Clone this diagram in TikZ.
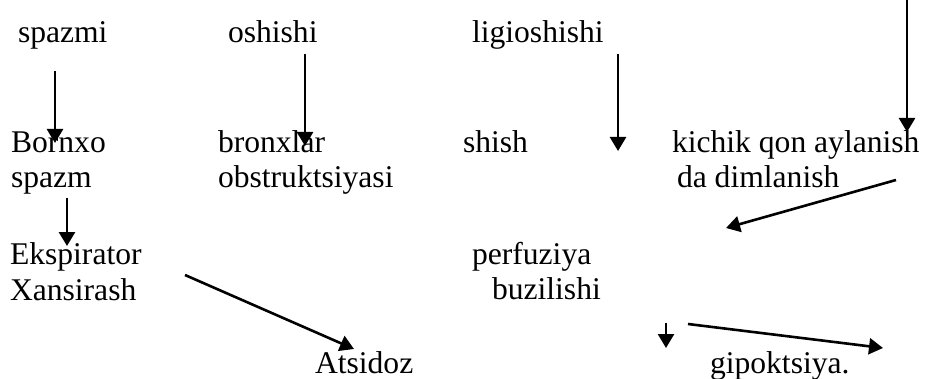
\documentclass[tikz,border=0pt]{standalone}
\usepackage{fontspec}
\setmainfont{Liberation Serif}
\usetikzlibrary{arrows.meta}
\begin{document}
\begin{tikzpicture}[x=1pt,y=-1pt,
  lbl/.style={anchor=base west,inner sep=0pt,outer sep=0pt,font=\fontsize{31.6}{36}\selectfont},
  arr/.style={line width=2.6pt,-{Triangle[length=14pt,width=16pt]}}]
\useasboundingbox (0,0) rectangle (925,379);
% texts
\node[lbl] (t1) at (18,43) {spazmi};
\node[lbl] (t2) at (228,43) {oshishi};
\node[lbl] (t3) at (472,43) {ligioshishi};
\node[lbl] (t4) at (11,153) {Bornxo};
\node[lbl] (t5) at (218,153) {bronxlar};
\node[lbl] (t6) at (463,153) {shish};
\node[lbl] (t7) at (672,153) {kichik qon aylanish};
\node[lbl] (t8) at (11,188) {spazm};
\node[lbl] (t9) at (218,188) {obstruktsiyasi};
\node[lbl] (t10) at (677,188) {da dimlanish};
\node[lbl] (t11) at (10,264) {Ekspirator};
\node[lbl] (t12) at (10,300) {Xansirash};
\node[lbl] (t13) at (472,264) {perfuziya};
\node[lbl] (t14) at (492,299) {buzilishi};
\node[lbl] (t15) at (315,373) {Atsidoz};
\node[lbl] (t16) at (710,373) {gipoktsiya.};
% arrow endpoints
\coordinate (a1s) at (55,71);   \coordinate (a1e) at (55,143);
\coordinate (a2s) at (305,54);  \coordinate (a2e) at (305,146);
\coordinate (a3s) at (618,54);  \coordinate (a3e) at (618,151);
\coordinate (a4s) at (907,0);   \coordinate (a4e) at (907,132);
\coordinate (a5s) at (896,180); \coordinate (a5e) at (726,228);
\coordinate (a6s) at (67,198);  \coordinate (a6e) at (67,246);
\coordinate (a7s) at (185,275); \coordinate (a7e) at (354,349);
\coordinate (a8s) at (666,323); \coordinate (a8e) at (666,348);
\coordinate (a9s) at (688,324); \coordinate (a9e) at (883,348);
\draw[arr] (a1s) -- (a1e);
\draw[arr] (a2s) -- (a2e);
\draw[arr] (a3s) -- (a3e);
\draw[arr] (a4s) -- (a4e);
\draw[arr] (a5s) -- (a5e);
\draw[arr] (a6s) -- (a6e);
\draw[arr] (a7s) -- (a7e);
\draw[arr] (a8s) -- (a8e);
\draw[arr] (a9s) -- (a9e);
\end{tikzpicture}
\end{document}
